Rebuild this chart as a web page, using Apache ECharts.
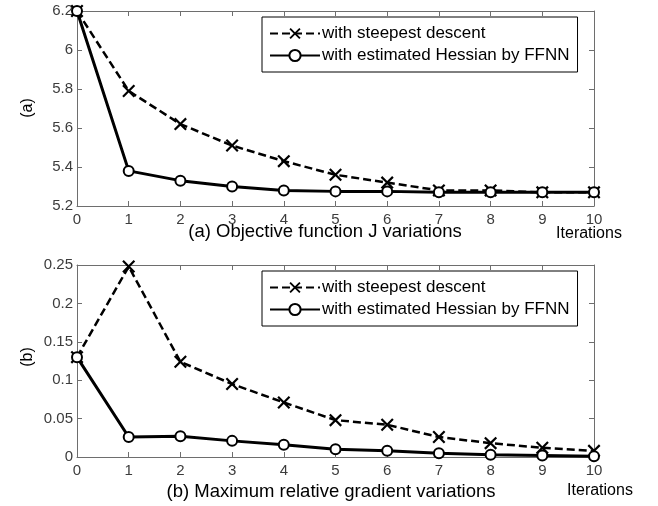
<!DOCTYPE html>
<html>
<head>
<meta charset="utf-8">
<script src="https://cdn.jsdelivr.net/npm/echarts@6/dist/echarts.min.js"></script>
<style>
  html, body { margin: 0; padding: 0; background: #fff; }
  #chart { width: 658px; height: 506px; }
</style>
</head>
<body>
<div id="chart"></div>
<script>
// Iteration index shared by both panels
const iterations = [0, 1, 2, 3, 4, 5, 6, 7, 8, 9, 10];

// Panel (a): objective function J
const objSteepest = [6.2, 5.79, 5.62, 5.51, 5.43, 5.36, 5.32, 5.28, 5.28, 5.27, 5.27];
const objHessian  = [6.2, 5.38, 5.33, 5.30, 5.28, 5.275, 5.275, 5.27, 5.27, 5.27, 5.27];

// Panel (b): maximum relative gradient
const gradSteepest = [0.13, 0.248, 0.124, 0.095, 0.071, 0.048, 0.042, 0.026, 0.018, 0.012, 0.008];
const gradHessian  = [0.13, 0.026, 0.027, 0.021, 0.016, 0.010, 0.008, 0.005, 0.003, 0.002, 0.001];

const seriesNames = ['with steepest descent', 'with estimated Hessian by FFNN'];
const panelTitles = ['(a) Objective function J variations', '(b) Maximum relative gradient variations'];
const panelTags = ['(a)', '(b)'];
const xName = 'Iterations';

const FONT = 'Liberation Sans, Arial, sans-serif';
const AXIS_GREY = '#6e6e6e';
const LABEL_GREY = '#3c3c3c';
const crossPath = 'path://M0,1.2L1.2,0L5,3.8L8.8,0L10,1.2L6.2,5L10,8.8L8.8,10L5,6.2L1.2,10L0,8.8L3.8,5Z';

const pair = (xs, ys) => xs.map((x, i) => [x, ys[i]]);

const grids = [
  { left: 77, right: 64, top: 11, height: 195 },
  { left: 77, right: 64, top: 265, height: 192 }
];
const yRanges = [
  { min: 5.2, max: 6.2, interval: 0.2 },
  { min: 0, max: 0.25, interval: 0.05 }
];

const xAxes = [];
const yAxes = [];
grids.forEach((g, i) => {
  // bottom axis with labels
  xAxes.push({
    type: 'value', gridIndex: i, min: 0, max: 10, interval: 1, position: 'bottom',
    axisLine: { onZero: false, lineStyle: { color: AXIS_GREY, width: 1 } },
    axisTick: { inside: true, length: 5, lineStyle: { color: AXIS_GREY } },
    axisLabel: { color: LABEL_GREY, fontFamily: FONT, fontSize: 15, margin: 6 },
    splitLine: { show: false }
  });
  // mirrored top axis (box frame)
  xAxes.push({
    type: 'value', gridIndex: i, min: 0, max: 10, interval: 1, position: 'top',
    axisLine: { onZero: false, lineStyle: { color: AXIS_GREY, width: 1 } },
    axisTick: { inside: true, length: 5, lineStyle: { color: AXIS_GREY } },
    axisLabel: { show: false }, splitLine: { show: false }
  });
  yAxes.push({
    type: 'value', gridIndex: i, ...yRanges[i], position: 'left',
    axisLine: { show: true, onZero: false, lineStyle: { color: AXIS_GREY, width: 1 } },
    axisTick: { show: true, inside: true, length: 5, lineStyle: { color: AXIS_GREY } },
    axisLabel: { color: LABEL_GREY, fontFamily: FONT, fontSize: 15, margin: 4 },
    splitLine: { show: false }
  });
  yAxes.push({
    type: 'value', gridIndex: i, ...yRanges[i], position: 'right',
    axisLine: { show: true, onZero: false, lineStyle: { color: AXIS_GREY, width: 1 } },
    axisTick: { show: true, inside: true, length: 5, lineStyle: { color: AXIS_GREY } },
    axisLabel: { show: false }, splitLine: { show: false }
  });
});

function steepestSeries(data, i) {
  return {
    name: seriesNames[0], type: 'line', xAxisIndex: i * 2, yAxisIndex: i * 2,
    data: pair(iterations, data), symbol: crossPath, symbolSize: 13,
    lineStyle: { color: '#000', width: 2.5, type: [8, 4] },
    itemStyle: { color: '#000' }, z: 3, animation: false
  };
}
function hessianSeries(data, i) {
  return {
    name: seriesNames[1], type: 'line', xAxisIndex: i * 2, yAxisIndex: i * 2,
    data: pair(iterations, data), symbol: 'emptyCircle', symbolSize: 10,
    lineStyle: { color: '#000', width: 3, type: 'solid' },
    itemStyle: { color: '#000', borderColor: '#000', borderWidth: 2.5 }, z: 4, animation: false
  };
}

const legends = [17, 271].map(top => ({
  orient: 'vertical', left: 262, top: top,
  data: seriesNames,
  itemWidth: 50, itemHeight: 14, itemGap: 5,
  padding: [8, 8, 8, 7],
  borderColor: '#000', borderWidth: 1, backgroundColor: '#fff',
  textStyle: { color: '#000', fontFamily: FONT, fontSize: 17, lineHeight: 17, padding: [0, 0, 0, -3] },
  selectedMode: false
}));

const texts = [];
[[325, 232, 589, 234, 108], [331, 492, 600, 491, 357]].forEach((p, i) => {
  texts.push({ type: 'text', x: p[0], y: p[1],
    style: { text: panelTitles[i], font: '18.5px ' + FONT, fill: '#000', align: 'center', verticalAlign: 'middle' } });
  texts.push({ type: 'text', x: p[2], y: p[3],
    style: { text: xName, font: '16px ' + FONT, fill: '#000', align: 'center', verticalAlign: 'middle' } });
  texts.push({ type: 'text', x: 28, y: p[4], rotation: Math.PI / 2,
    style: { text: panelTags[i], font: '16px ' + FONT, fill: '#000', align: 'center', verticalAlign: 'middle' } });
});

const chart = echarts.init(document.getElementById('chart'), null, { renderer: 'canvas' });
chart.setOption({
  animation: false,
  backgroundColor: '#fff',
  grid: grids,
  xAxis: xAxes,
  yAxis: yAxes,
  legend: legends,
  graphic: texts,
  series: [
    steepestSeries(objSteepest, 0), hessianSeries(objHessian, 0),
    steepestSeries(gradSteepest, 1), hessianSeries(gradHessian, 1)
  ]
});
</script>
</body>
</html>
